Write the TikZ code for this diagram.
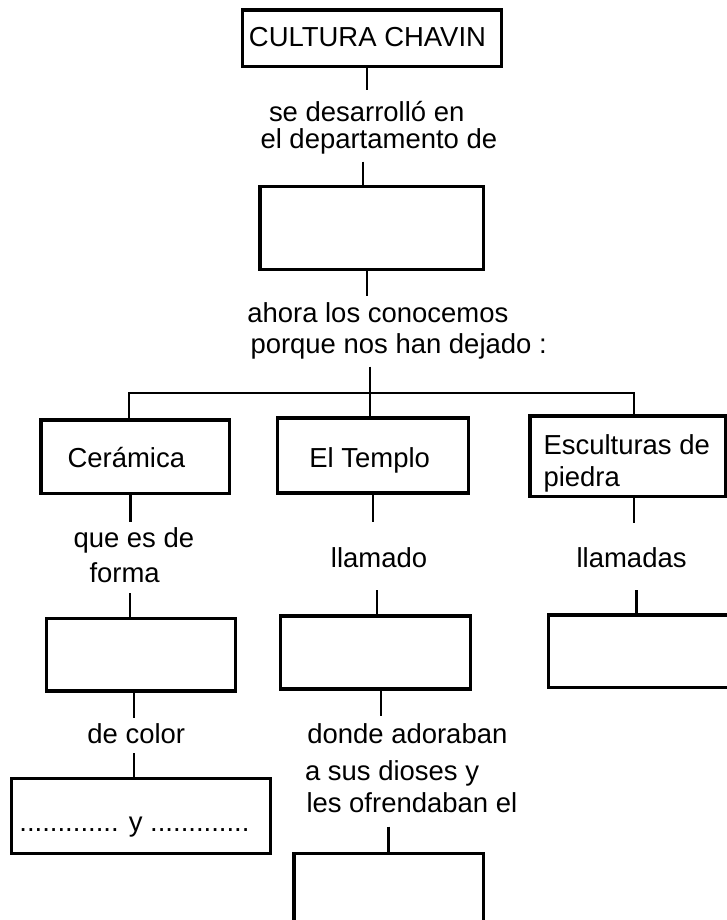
\documentclass[tikz,border=0pt]{standalone}
\usepackage{fontspec}
\setmainfont{Liberation Sans}
\begin{document}
\begin{tikzpicture}[x=0.75pt,y=-0.75pt,
  box/.style={draw=black, line width=2.5pt, rectangle, inner sep=0pt, outer sep=0pt},
  conn/.style={draw=black, line width=1.6pt},
  txt/.style={inner sep=0pt, outer sep=0pt, font=\fontsize{20.6}{24}\selectfont}]
\useasboundingbox (0,0) rectangle (727,920);
\clip (0,0) rectangle (727,920);

% boxes
\node[box, minimum width={259*0.75pt}, minimum height={56.7*0.75pt}] (top) at (372.2,38.3) {};
\node[box, minimum width={223.3*0.75pt}, minimum height={82.6*0.75pt}] (dep) at (371.7,228) {};
\node[box, minimum width={188.7*0.75pt}, minimum height={73.3*0.75pt}] (cer) at (135.2,456.7) {};
\node[box, minimum width={191*0.75pt}, minimum height={75*0.75pt}] (tem) at (372.7,455.5) {};
\node[box, minimum width={195.6*0.75pt}, minimum height={80.7*0.75pt}] (esc) at (627.8,456.3) {};
\node[box, minimum width={189*0.75pt}, minimum height={72.7*0.75pt}] (forma) at (141,654.7) {};
\node[box, minimum width={190*0.75pt}, minimum height={73*0.75pt}] (llbox) at (375.6,652.5) {};
\node[box, minimum width={191.7*0.75pt}, minimum height={72.3*0.75pt}] (llsbox) at (644.2,651.2) {};
\node[box, minimum width={258.7*0.75pt}, minimum height={75*0.75pt}] (color) at (141,815.8) {};
\node[box, minimum width={189.3*0.75pt}, minimum height={75*0.75pt}] (ofr) at (388.7,890.7) {};

% texts
\node[txt, anchor=base] (t0) at (367.5,46.7) {CULTURA CHAVIN};
\node[txt, anchor=base west] (t1a) at (269,121.7) {se desarrolló en};
\node[txt, anchor=base west] (t1b) at (260.5,148.3) {el departamento de};
\node[txt, anchor=base west] (t2a) at (247.3,322.7) {ahora los conocemos};
\node[txt, anchor=base west] (t2b) at (250.5,353.3) {porque nos han dejado :};
\node[txt, anchor=base] (tcer) at (126.3,467.3) {Cerámica};
\node[txt, anchor=base] (ttem) at (369.7,467) {El Templo};
\node[txt, anchor=base west] (tesca) at (543.5,454) {Esculturas de};
\node[txt, anchor=base west] (tescb) at (543.5,486) {piedra};
\node[txt, anchor=base west] (tqa) at (73.5,547.3) {que es de};
\node[txt, anchor=base west] (tqb) at (89.5,582.7) {forma};
\node[txt, anchor=base] (tll) at (379,567.3) {llamado};
\node[txt, anchor=base] (tlls) at (631.6,567.3) {llamadas};
\node[txt, anchor=base] (tcol) at (136.3,743.3) {de color};
\node[txt, anchor=base west] (tda) at (307.3,743.3) {donde adoraban};
\node[txt, anchor=base west] (tdb) at (305,780.7) {a sus dioses y};
\node[txt, anchor=base west] (tdc) at (306.5,812.7) {les ofrendaban el};
\node[txt, anchor=base] (tdots) at (134.4,831.7) {............. y .............};

% connectors
\coordinate (c1) at (366.7,90);
\coordinate (c2) at (363.3,161.7);
\coordinate (c3) at (366.7,296);
\coordinate (c4) at (370,366.7);
\coordinate (hl) at (129,393);
\coordinate (hr) at (634,393);
\coordinate (c5) at (130.5,522);
\coordinate (c6) at (373,522);
\coordinate (c7) at (634,522.7);
\coordinate (c8) at (129.8,593.3);
\coordinate (c9) at (377,590);
\coordinate (c10) at (636.5,590);
\coordinate (c11) at (134.4,718.3);
\coordinate (c12) at (381,716);
\coordinate (c13) at (134.4,753.3);
\coordinate (c14) at (388.5,826.7);

\draw[conn] (top.south -| c1) -- (c1);
\draw[conn] (c2) -- (c2 |- dep.north);
\draw[conn] (dep.south -| c3) -- (c3);
\draw[conn] (c4) -- (c4 |- tem.north);
\draw[conn] (cer.north -| hl) -- (hl) -- (hr) -- (esc.north -| hr);
\draw[conn] (cer.south -| c5) -- (c5);
\draw[conn] (tem.south -| c6) -- (c6);
\draw[conn] (esc.south -| c7) -- (c7);
\draw[conn] (c8) -- (c8 |- forma.north);
\draw[conn] (c9) -- (c9 |- llbox.north);
\draw[conn] (c10) -- (c10 |- llsbox.north);
\draw[conn] (forma.south -| c11) -- (c11);
\draw[conn] (llbox.south -| c12) -- (c12);
\draw[conn] (c13) -- (c13 |- color.north);
\draw[conn] (c14) -- (c14 |- ofr.north);
\end{tikzpicture}
\end{document}
